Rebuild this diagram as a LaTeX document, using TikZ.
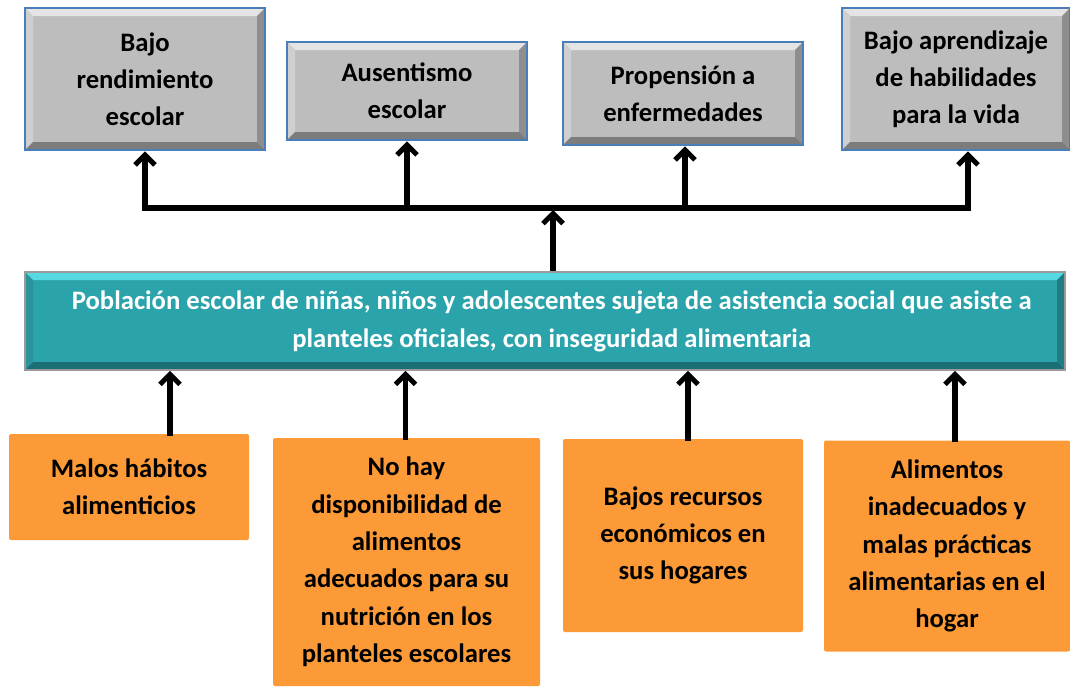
\documentclass[tikz,border=0pt]{standalone}
\usepackage{fontspec}
\setmainfont{Carlito}
\usetikzlibrary{arrows.meta,calc}
\definecolor{gfill}{HTML}{BDBDBD}
\definecolor{glight}{HTML}{E4E4E4}
\definecolor{gleft}{HTML}{CFCFCF}
\definecolor{gright}{HTML}{8E8E8E}
\definecolor{gdark}{HTML}{7C7C7C}
\definecolor{gborder}{HTML}{4A7EBB}
\definecolor{tfill}{HTML}{2BA3AA}
\definecolor{tlight}{HTML}{56D9E2}
\definecolor{tleft}{HTML}{2C939A}
\definecolor{tright}{HTML}{1F7D83}
\definecolor{tdark}{HTML}{1B6E73}
\definecolor{tborder}{HTML}{9A9A9A}
\definecolor{ofill}{HTML}{FB9A37}
\tikzset{
  bevel/.style n args={5}{path picture={
    \fill[#1] (path picture bounding box.north west) -- (path picture bounding box.north east)
      -- ([shift={(-#5,#5)}]path picture bounding box.north east) -- ([shift={(#5,#5)}]path picture bounding box.north west) -- cycle;
    \fill[#2] (path picture bounding box.north west) -- ([shift={(#5,#5)}]path picture bounding box.north west)
      -- ([shift={(#5,-#5)}]path picture bounding box.south west) -- (path picture bounding box.south west) -- cycle;
    \fill[#3] (path picture bounding box.north east) -- ([shift={(-#5,#5)}]path picture bounding box.north east)
      -- ([shift={(-#5,-#5)}]path picture bounding box.south east) -- (path picture bounding box.south east) -- cycle;
    \fill[#4] (path picture bounding box.south west) -- ([shift={(#5,-#5)}]path picture bounding box.south west)
      -- ([shift={(-#5,-#5)}]path picture bounding box.south east) -- (path picture bounding box.south east) -- cycle;
  }},
  gbox/.style={rectangle, fill=gfill, draw=gborder, line width=2pt, inner sep=0pt,
    bevel={glight}{gleft}{gright}{gdark}{8},
    align=center, font=\fontsize{20pt}{27.75pt}\selectfont\bfseries, text=black},
  tbox/.style={rectangle, fill=tfill, draw=tborder, line width=1.2pt, inner sep=0pt,
    bevel={tlight}{tleft}{tright}{tdark}{8},
    align=center, font=\fontsize{20pt}{28.5pt}\selectfont\bfseries, text=white},
  obox/.style={rectangle, rounded corners=1.5pt, fill=ofill, inner sep=0pt,
    align=center, font=\fontsize{20pt}{28pt}\selectfont\bfseries, text=black},
  link/.style={line width=3.8pt, black},
  arr/.style={line width=3.8pt, black, -{Straight Barb[length=7.5pt,width=15pt]}},
}
\begin{document}
\begin{tikzpicture}[x=0.75pt,y=-0.75pt]
\useasboundingbox (0,0) rectangle (1070,686);
% effects
\node[gbox, minimum width=180pt, minimum height=106.5pt] (b1) at (145,79) {Bajo\\rendimiento\\escolar};
\node[gbox, minimum width=180pt, minimum height=73.5pt] (b2) at (407,91) {Ausentismo\\escolar};
\node[gbox, minimum width=180pt, minimum height=77.25pt] (b3) at (683,93.5) {Propensión a\\enfermedades};
\node[gbox, minimum width=171pt, minimum height=106.5pt] (b4) at (956,79) {Bajo aprendizaje\\de habilidades\\para la vida};
% problem
\node[tbox, minimum width=780pt, minimum height=73.5pt] (p) at (545,321)
  {\hspace*{10pt}Población escolar de niñas, niños y adolescentes sujeta de asistencia social que asiste a\\\hspace*{10pt}planteles oficiales, con inseguridad alimentaria};
% causes
\node[obox, minimum width=180pt, minimum height=79.5pt] (o1) at (129,487) {Malos hábitos\\alimenticios};
\node[obox, minimum width=200.25pt, minimum height=186pt] (o2) at (406.5,562) {No hay\\disponibilidad de\\alimentos\\adecuados para su\\nutrición en los\\planteles escolares};
\node[obox, minimum width=180pt, minimum height=144.75pt] (o3) at (683,535.5) {Bajos recursos\\económicos en\\sus hogares};
\node[obox, minimum width=184.5pt, minimum height=158.25pt] (o4) at (947,546) {Alimentos\\inadecuados y\\malas prácticas\\alimentarias en el\\hogar};
% effect connectors
\coordinate (hl) at (145,208);
\coordinate (hr) at (968,208);
\coordinate (hub) at (553,208);
\draw[link, line cap=rect] (hl) -- (hr);
\draw[arr] (hl) -- (b1.south);
\draw[arr] (hl -| b2.south) -- (b2.south);
\draw[arr] ($(hl -| b3.south)+(2,0)$) coordinate (c3) -- (c3 |- b3.south);
\draw[arr] (hr) -- (hr |- b4.south);
\draw[arr] (hub |- p.north) -- ($(hub)+(0,2)$);
% cause connectors
\draw[arr] ($(o1.north)+(41,2)$) coordinate (d1) -- (d1 |- p.south);
\draw[arr] ($(o2.north)+(-1,2)$) coordinate (d2) -- (d2 |- p.south);
\draw[arr] ($(o3.north)+(5,2)$) coordinate (d3) -- (d3 |- p.south);
\draw[arr] ($(o4.north)+(8,2)$) coordinate (d4) -- (d4 |- p.south);
\end{tikzpicture}
\end{document}
